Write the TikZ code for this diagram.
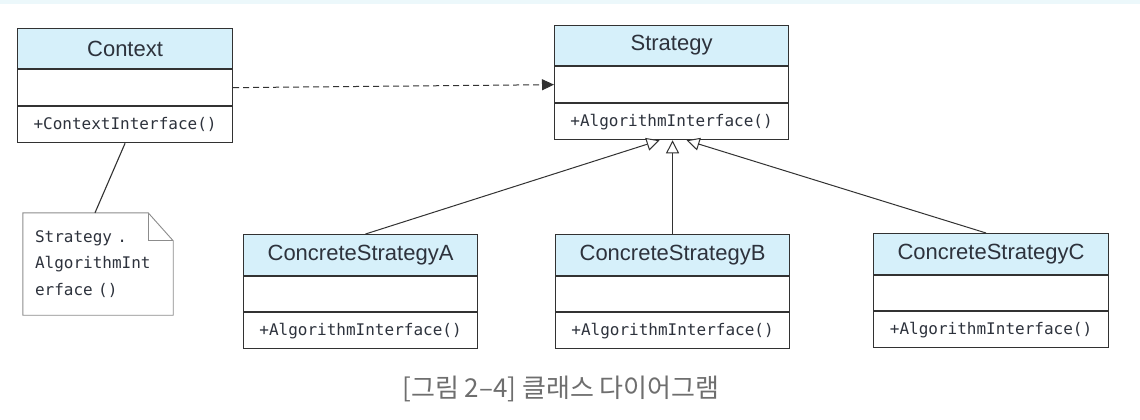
\documentclass[tikz,border=0pt]{standalone}
\usepackage{fontspec}
\setmainfont{Liberation Sans}
\newfontfamily\monofont{DejaVu Sans Mono}
\newfontfamily\krfont{Noto Sans CJK KR}
\usetikzlibrary{arrows.meta}
\definecolor{headfill}{RGB}{214,240,250}
\definecolor{linecol}{RGB}{50,50,50}
\definecolor{txtcol}{RGB}{45,50,60}
\definecolor{notecol}{RGB}{140,140,140}
\definecolor{captcol}{RGB}{110,110,110}
\definecolor{topband}{RGB}{236,248,251}
\begin{document}
\begin{tikzpicture}[x=1pt,y=-1pt,
  head/.style={draw=linecol, line width=1.1pt, fill=headfill, inner sep=0pt,
    font=\fontsize{22}{24}\selectfont, text=txtcol},
  attrbox/.style={draw=linecol, line width=1.1pt, fill=white, inner sep=0pt, anchor=north},
  opsbox/.style={draw=linecol, line width=1.1pt, fill=white, inner sep=0pt, anchor=north,
    font=\monofont\fontsize{16}{18}\selectfont, text=txtcol},
  notebox/.style={inner xsep=12pt, inner ysep=0pt, minimum width=150pt, minimum height=102pt,
    text width=126pt, align=left, font=\monofont\fontsize{16}{26.5}\selectfont, text=txtcol},
  inh/.style={draw=linecol, line width=1pt,
    -{Triangle[open, length=13pt, width=13pt, fill=white]}},
  dep/.style={draw=linecol, line width=1pt, dash pattern=on 6pt off 4pt,
    -{Triangle[length=12pt, width=11pt]}},
  plain/.style={draw=linecol, line width=1.1pt}]
\useasboundingbox (0,0) rectangle (1140,420);
\fill[white] (0,0) rectangle (1140,420);
\fill[topband] (0,0) rectangle (1140,4);

% Context
\node[head, anchor=north west, minimum width=215pt, minimum height=40pt] (ctxH) at (17,28) {Context};
\node[attrbox, minimum width=215pt, minimum height=36pt] (ctxA) at (ctxH.south) {};
\node[opsbox, minimum width=215pt, minimum height=36pt] (ctxO) at (ctxA.south) {+ContextInterface()};

% Strategy
\node[head, anchor=north west, minimum width=234pt, minimum height=40pt] (strH) at (554,25) {Strategy};
\node[attrbox, minimum width=234pt, minimum height=36pt] (strA) at (strH.south) {};
\node[opsbox, minimum width=234pt, minimum height=36pt] (strO) at (strA.south) {+AlgorithmInterface()};

% Concrete A
\node[head, anchor=north west, minimum width=234pt, minimum height=41pt] (aH) at (243,234) {ConcreteStrategyA};
\node[attrbox, minimum width=234pt, minimum height=35pt] (aA) at (aH.south) {};
\node[opsbox, minimum width=234pt, minimum height=36pt] (aO) at (aA.south) {+AlgorithmInterface()};

% Concrete B
\node[head, anchor=north west, minimum width=234pt, minimum height=41pt] (bH) at (555,234) {ConcreteStrategyB};
\node[attrbox, minimum width=234pt, minimum height=35pt] (bA) at (bH.south) {};
\node[opsbox, minimum width=234pt, minimum height=36pt] (bO) at (bA.south) {+AlgorithmInterface()};

% Concrete C
\node[head, anchor=north west, minimum width=235pt, minimum height=41pt] (cH) at (873,233) {ConcreteStrategyC};
\node[attrbox, minimum width=235pt, minimum height=35pt] (cA) at (cH.south) {};
\node[opsbox, minimum width=235pt, minimum height=36pt] (cO) at (cA.south) {+AlgorithmInterface()};

% Note
\node[notebox] (note) at (98,264) {Strategy .\\AlgorithmInt\\erface ()};
\draw[notecol, line width=0.9pt] (note.north west) -- ([xshift=-25pt]note.north east)
  -- ([yshift=-28pt]note.north east) -- (note.south east) -- (note.south west) -- cycle;
\draw[notecol, line width=0.9pt] ([xshift=-25pt]note.north east) -- ([xshift=-25pt,yshift=-28pt]note.north east)
  -- ([yshift=-28pt]note.north east);

% connectors
\draw[plain] (ctxO.south) -- ([xshift=-3pt]note.north);
\draw[dep] (ctxA.east) -- (strA.west);
\draw[inh] ([xshift=5pt]aH.north) -- ([xshift=-12pt]strO.south);
\draw[inh] (bH.north) -- ([xshift=1pt]strO.south);
\draw[inh] ([xshift=-5pt]cH.north) -- ([xshift=15pt]strO.south);

% caption
\node[font=\krfont\fontsize{26}{28}\selectfont, text=captcol] (cap) at (561,389) {[그림 2–4] 클래스 다이어그램};
\end{tikzpicture}
\end{document}
